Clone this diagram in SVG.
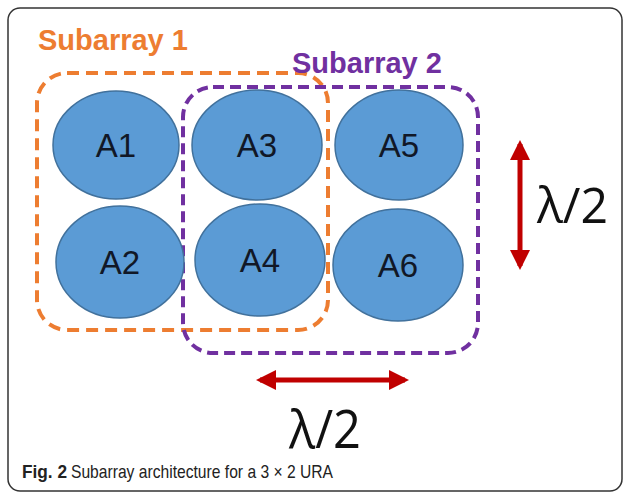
<svg xmlns="http://www.w3.org/2000/svg" width="627" height="494" viewBox="0 0 627 494">
<style>
.ant{fill:#5B9BD5;stroke:#41719C;stroke-width:1.5}
.al{font-family:"Liberation Sans",Arial,sans-serif;font-size:33px;fill:#111827;text-anchor:middle}
.lam{font-family:"Open Sans","Liberation Sans",sans-serif;fill:#111;}
.arr{stroke:#C00000;stroke-width:5;fill:none}
.cap{font-family:"Liberation Sans",Arial,sans-serif;font-size:19px;fill:#222}
</style>
<defs>
<marker id="ah" viewBox="0 0 10 10" refX="8" refY="5" markerWidth="4" markerHeight="4" orient="auto-start-reverse" markerUnits="strokeWidth">
<path d="M0,0 L10,5 L0,10 Z" fill="#C00000"/>
</marker>
</defs>
<rect width="627" height="494" fill="#fff"/>
<rect x="8" y="8" width="614" height="483" rx="12" fill="none" stroke="#333" stroke-width="1.5"/>
<g id="subarray1">
<rect x="37" y="73" width="291" height="257" rx="30" fill="none" stroke="#ED7D31" stroke-width="4" stroke-dasharray="12,7"/>
<text x="38" y="50" font-family="Liberation Sans,Arial,sans-serif" font-weight="bold" font-size="29" fill="#ED7D31">Subarray 1</text>
</g>
<g id="subarray2">
<rect x="183" y="87" width="295" height="266" rx="30" fill="none" stroke="#7030A0" stroke-width="4" stroke-dasharray="11,6"/>
<text x="292" y="73" font-family="Liberation Sans,Arial,sans-serif" font-weight="bold" font-size="29" fill="#7030A0">Subarray 2</text>
</g>
<g id="A1"><ellipse class="ant" cx="116" cy="145" rx="63" ry="54"/><text class="al" x="116" y="157">A1</text></g>
<g id="A2"><ellipse class="ant" cx="120" cy="262" rx="64" ry="56"/><text class="al" x="120" y="274">A2</text></g>
<g id="A3"><ellipse class="ant" cx="257" cy="145" rx="65" ry="55"/><text class="al" x="257" y="157">A3</text></g>
<g id="A4"><ellipse class="ant" cx="260" cy="260" rx="65" ry="56"/><text class="al" x="260" y="272">A4</text></g>
<g id="A5"><ellipse class="ant" cx="399" cy="145" rx="64" ry="55"/><text class="al" x="399" y="157">A5</text></g>
<g id="A6"><ellipse class="ant" cx="398" cy="265" rx="65" ry="56"/><text class="al" x="398" y="277">A6</text></g>
<g id="connectors">
<line class="arr" x1="520" y1="144" x2="520" y2="266" marker-start="url(#ah)" marker-end="url(#ah)"/>
<line class="arr" x1="260" y1="380" x2="405" y2="380" marker-start="url(#ah)" marker-end="url(#ah)"/>
</g>
<text class="lam" x="537" y="223" font-size="50" textLength="71" lengthAdjust="spacingAndGlyphs">λ/2</text>
<text class="lam" x="289" y="448" font-size="53" textLength="72" lengthAdjust="spacingAndGlyphs">λ/2</text>
<text class="cap" x="22" y="478" font-weight="bold" textLength="45" lengthAdjust="spacingAndGlyphs">Fig. 2</text>
<text class="cap" x="71" y="478" textLength="262" lengthAdjust="spacingAndGlyphs">Subarray architecture for a 3 × 2 URA</text>
</svg>
